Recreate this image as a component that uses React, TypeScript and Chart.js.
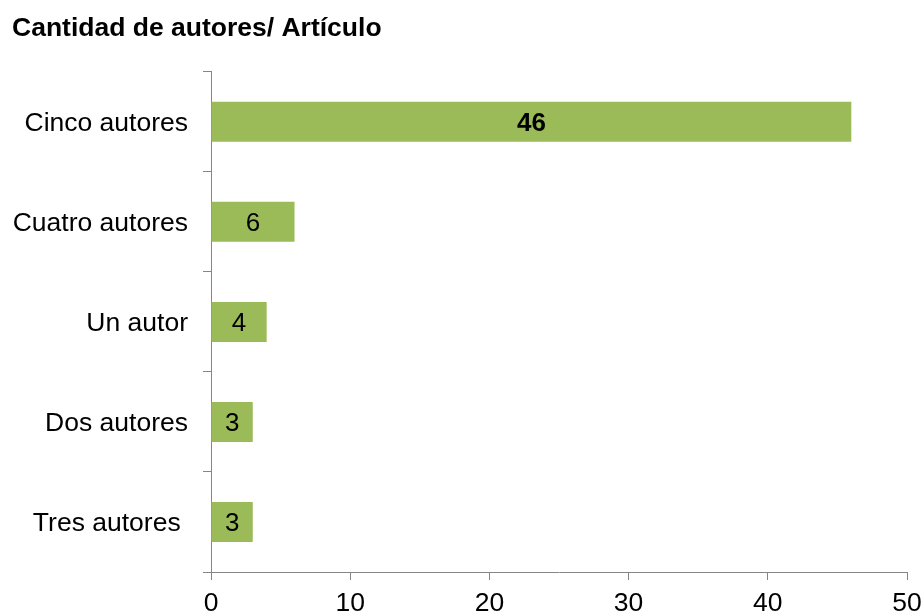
import React, { useEffect, useRef } from "react";
import { Chart, registerables } from "chart.js";

Chart.register(...registerables);

const titleText = "Cantidad de autores/ Artículo";
const categories = ["Cinco autores", "Cuatro autores", "Un autor", "Dos autores", "Tres autores "];
const values = [46, 6, 4, 3, 3];
const boldLabels = [true, false, false, false, false];
const xTicks = [0, 10, 20, 30, 40, 50];

const FONT = "'Liberation Sans', Arial, sans-serif";
const AXIS = "#868686";
const BAR = "#9BBB59";

const valueLabels = {
  id: "valueLabels",
  afterDatasetsDraw(chart: any) {
    const ctx = chart.ctx;
    const meta = chart.getDatasetMeta(0);
    ctx.save();
    ctx.fillStyle = "#000";
    ctx.textAlign = "center";
    ctx.textBaseline = "middle";
    meta.data.forEach((el: any, i: number) => {
      const v = chart.data.datasets[0].data[i];
      ctx.font = `${boldLabels[i] ? "bold " : ""}26px ${FONT}`;
      ctx.fillText(String(v), (el.x + el.base) / 2, el.y + 2);
    });
    ctx.restore();
  },
};

export default function App() {
  const ref = useRef<HTMLCanvasElement | null>(null);
  useEffect(() => {
    if (!ref.current) return;
    const chart = new Chart(ref.current, {
      type: "bar",
      data: {
        labels: categories,
        datasets: [
          {
            data: values,
            backgroundColor: BAR,
            borderWidth: 0,
            barPercentage: 0.5,
            categoryPercentage: 0.8,
          },
        ],
      },
      options: {
        indexAxis: "y",
        animation: false,
        responsive: false,
        devicePixelRatio: 1,
        layout: { padding: { left: 12, right: 17, top: 0, bottom: 0 } },
        plugins: {
          legend: { display: false },
          tooltip: { enabled: false },
          title: {
            display: true,
            text: titleText,
            align: "start",
            color: "#000",
            font: { family: FONT, size: 26.5, weight: "bold", lineHeight: 1.2 },
            padding: { top: 13, bottom: 27 },
          },
        },
        scales: {
          x: {
            min: 0,
            max: 50,
            afterBuildTicks: (scale: any) => {
              scale.ticks = xTicks.map((v) => ({ value: v }));
            },
            afterFit: (scale: any) => {
              scale.height = 44;
              scale.paddingRight = 0;
              scale.paddingLeft = 0;
            },
            grid: {
              drawOnChartArea: false,
              drawTicks: true,
              tickLength: 8,
              color: AXIS,
            },
            border: { color: AXIS, width: 1 },
            ticks: {
              color: "#000",
              padding: 8,
              maxRotation: 0,
              font: { family: FONT, size: 26.5 },
            },
          },
          y: {
            afterFit: (scale: any) => {
              scale.width = 199;
              scale.paddingTop = 0;
              scale.paddingBottom = 0;
            },
            grid: {
              drawOnChartArea: false,
              drawTicks: true,
              tickLength: 8,
              color: AXIS,
              offset: true,
            },
            border: { color: AXIS, width: 1 },
            ticks: {
              color: "#000",
              padding: 15,
              labelOffset: 2,
              font: { family: FONT, size: 26.5 },
            },
          },
        },
      },
      plugins: [valueLabels],
    } as any);
    return () => chart.destroy();
  }, []);
  return (
    <div style={{ position: "absolute", left: 0, top: 0, width: 924, height: 616, background: "#fff" }}>
      <canvas ref={ref} width={924} height={616} style={{ display: "block" }} />
    </div>
  );
}
